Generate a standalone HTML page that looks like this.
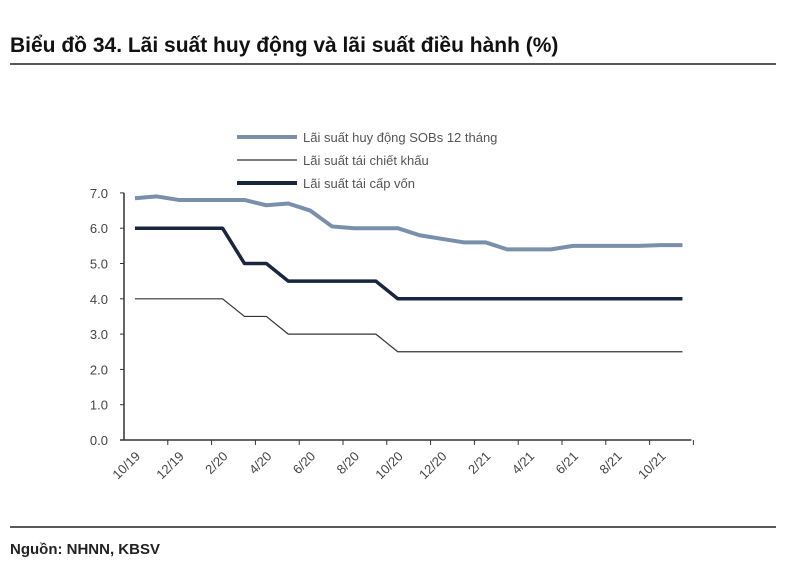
<!DOCTYPE html>
<html><head><meta charset="utf-8"><style>
body{margin:0;background:#fff;width:800px;height:578px;overflow:hidden;font-family:"Liberation Sans",sans-serif}
</style></head><body>
<svg width="800" height="578" font-family="Liberation Sans, sans-serif">
<text x="10" y="52" font-size="21" font-weight="bold" fill="#111">Biểu đồ 34. Lãi suất huy động và lãi suất điều hành (%)</text>
<line x1="10" y1="64" x2="776" y2="64" stroke="#222" stroke-width="1.5"/>
<line x1="10" y1="527" x2="776" y2="527" stroke="#222" stroke-width="1.5"/>
<text x="10" y="554" font-size="15" font-weight="bold" fill="#222">Nguồn: NHNN, KBSV</text>
<g id="legend" font-size="13" fill="#555">
<line x1="237" y1="137" x2="297" y2="137" stroke="#7890aa" stroke-width="4"/>
<text x="303" y="142">Lãi suất huy động SOBs 12 tháng</text>
<line x1="237" y1="160" x2="297" y2="160" stroke="#333" stroke-width="1.2"/>
<text x="303" y="165">Lãi suất tái chiết khấu</text>
<line x1="237" y1="183" x2="297" y2="183" stroke="#18263f" stroke-width="4"/>
<text x="303" y="188">Lãi suất tái cấp vốn</text>
</g>
<g id="plot"></g>
</svg>
<script>
const months=["10/19","11/19","12/19","1/20","2/20","3/20","4/20","5/20","6/20","7/20","8/20","9/20","10/20","11/20","12/20","1/21","2/21","3/21","4/21","5/21","6/21","7/21","8/21","9/21","10/21","11/21"];
const deposit=[6.85,6.9,6.8,6.8,6.8,6.8,6.65,6.7,6.5,6.05,6.0,6.0,6.0,5.8,5.7,5.6,5.6,5.4,5.4,5.4,5.5,5.5,5.5,5.5,5.52,5.52];
const rediscount=[4,4,4,4,4,3.5,3.5,3,3,3,3,3,2.5,2.5,2.5,2.5,2.5,2.5,2.5,2.5,2.5,2.5,2.5,2.5,2.5,2.5];
const refinancing=[6,6,6,6,6,5,5,4.5,4.5,4.5,4.5,4.5,4,4,4,4,4,4,4,4,4,4,4,4,4,4];
const yTicks=[0,1,2,3,4,5,6,7];
const NS="http://www.w3.org/2000/svg";
const g=document.getElementById('plot');
const X0=124,STEP=21.9,Y0=440,YU=35.3;
const xs=i=>X0+(i+0.5)*STEP, ys=v=>Y0-v*YU;
function mk(t,a){const e=document.createElementNS(NS,t);for(const k in a)e.setAttribute(k,a[k]);g.appendChild(e);return e;}
let e=mk('line',{x1:X0,y1:ys(7),x2:X0,y2:Y0,stroke:'#333','stroke-width':1.5});


e=mk('line',{x1:X0-4,y1:Y0,x2:X0+months.length*STEP-2,y2:Y0,stroke:'#333','stroke-width':1.5});


yTicks.forEach(v=>{
 const t=mk('line',{x1:X0-4,y1:ys(v),x2:X0,y2:ys(v),stroke:'#333'});
 
 
 const l=mk('text',{x:X0-16,y:ys(v)+5,'font-size':13,'text-anchor':'end',fill:'#444'});
 l.textContent=v.toFixed(1);
 
 
});
for(let i=0;i<=months.length;i+=2){
 const tx=X0+i*STEP;
 if(i>0){const t=mk('line',{x1:tx,y1:Y0,x2:tx,y2:Y0+5,stroke:'#333'});
 
 }
 if(i<months.length){
 const px=xs(i)+6,py=Y0+17;
 const l=mk('text',{x:px,y:py,'font-size':13,'text-anchor':'end',fill:'#444',transform:`rotate(-45 ${px} ${py})`});
 l.textContent=months[i];
 
 }
}
function series(arr,color,w,name){
 const p=mk('polyline',{points:arr.map((v,i)=>xs(i)+','+ys(v)).join(' '),fill:'none',stroke:color,'stroke-width':w,'stroke-linejoin':'round'});
 
 
}
series(rediscount,'#333',1.2,'rediscount-line');
series(refinancing,'#18263f',3.5,'refinancing-line');
series(deposit,'#7890aa',4,'deposit-rate-line');
</script>
</body></html>
